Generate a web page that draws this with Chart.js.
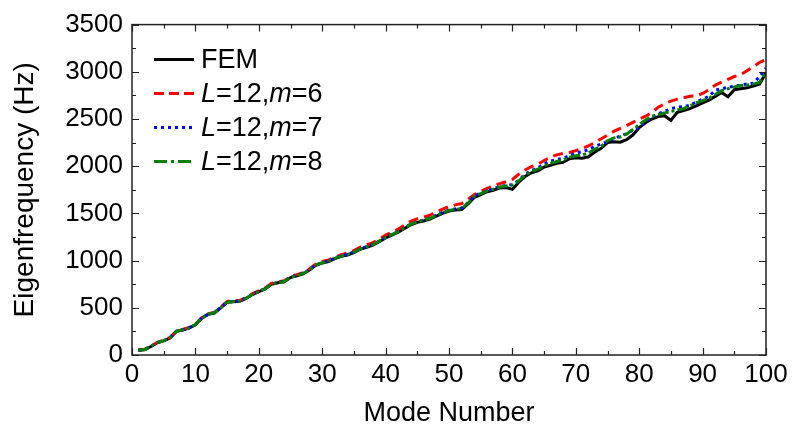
<!DOCTYPE html>
<html>
<head>
<meta charset="utf-8">
<script src="https://cdn.jsdelivr.net/npm/chart.js@4/dist/chart.umd.min.js"></script>
<style>
  html, body { margin: 0; padding: 0; background: #fff; }
  #wrap { width: 796px; height: 434px; }
</style>
</head>
<body>
<div id="wrap"><canvas id="c" width="796" height="434"></canvas></div>
<script>
// mode numbers 1..100
const modes = Array.from({length: 100}, (_, i) => i + 1)

const fem = [
  50, 55, 90, 130, 150, 180, 250, 265, 285, 320,
  390, 430, 445, 500, 560, 565, 570, 600, 640, 670,
  700, 750, 765, 775, 820, 840, 860, 900, 950, 975,
  990, 1020, 1045, 1060, 1085, 1120, 1140, 1165, 1200, 1240,
  1270, 1300, 1340, 1380, 1405, 1420, 1440, 1470, 1500, 1525,
  1535, 1540, 1600, 1670, 1700, 1730, 1745, 1770, 1775, 1755,
  1830, 1890, 1930, 1950, 1990, 2010, 2030, 2040, 2080, 2090,
  2085, 2100, 2150, 2190, 2250, 2260, 2255, 2280, 2330, 2410,
  2460, 2500, 2525, 2535, 2485, 2570, 2590, 2610, 2640, 2670,
  2700, 2740, 2780, 2735, 2810, 2820, 2830, 2850, 2870, 2990
]
const m6 = [
  52, 60, 95, 135, 156, 188, 255, 272, 292, 325,
  395, 436, 452, 508, 566, 572, 578, 608, 650, 680,
  710, 758, 774, 786, 830, 852, 874, 914, 962, 990,
  1006, 1036, 1062, 1080, 1106, 1142, 1164, 1190, 1228, 1270,
  1302, 1334, 1376, 1418, 1442, 1460, 1482, 1514, 1546, 1572,
  1590, 1604, 1650, 1700, 1735, 1765, 1790, 1815, 1835, 1860,
  1915, 1960, 1995, 2020, 2060, 2095, 2120, 2135, 2145, 2165,
  2190, 2215, 2250, 2290, 2330, 2370, 2400, 2430, 2465, 2500,
  2530, 2570, 2625, 2660, 2690, 2710, 2725, 2740, 2745, 2770,
  2810, 2860, 2890, 2920, 2950, 2970, 3010, 3055, 3100, 3130
]
const m7 = [
  50, 58, 92, 132, 152, 185, 252, 268, 290, 322,
  393, 432, 448, 504, 562, 566, 574, 604, 644, 674,
  704, 752, 768, 780, 824, 844, 866, 906, 954, 980,
  996, 1026, 1050, 1066, 1092, 1126, 1148, 1172, 1208, 1248,
  1278, 1308, 1348, 1388, 1412, 1430, 1452, 1480, 1510, 1535,
  1548, 1556, 1615, 1685, 1715, 1742, 1760, 1785, 1795, 1805,
  1850, 1915, 1955, 1980, 2025, 2055, 2070, 2085, 2110, 2140,
  2154, 2175, 2210, 2235, 2260, 2290, 2320, 2345, 2380, 2410,
  2470, 2520, 2555, 2580, 2610, 2625, 2630, 2645, 2680, 2710,
  2740, 2805, 2820, 2835, 2848, 2860, 2872, 2880, 2950, 3040
]
const m8 = [
  50, 58, 92, 132, 152, 185, 250, 268, 288, 322,
  392, 432, 448, 502, 560, 566, 572, 602, 642, 672,
  702, 750, 766, 778, 822, 842, 864, 904, 952, 978,
  994, 1024, 1048, 1064, 1090, 1124, 1146, 1170, 1206, 1245,
  1275, 1306, 1346, 1386, 1410, 1428, 1448, 1478, 1508, 1532,
  1544, 1552, 1610, 1680, 1710, 1738, 1756, 1780, 1790, 1800,
  1845, 1905, 1945, 1968, 2005, 2030, 2050, 2065, 2095, 2110,
  2120, 2140, 2180, 2210, 2270, 2300, 2310, 2340, 2390, 2440,
  2490, 2530, 2545, 2565, 2580, 2595, 2610, 2640, 2670, 2695,
  2720, 2760, 2800, 2820, 2840, 2855, 2860, 2870, 2890, 3005
]

const FONT = "'Liberation Sans', Arial, sans-serif"

// legend rows: [parts, colour, dash]; parts are [text, italic]
const legendRows = [
  [[['FEM', false]], '#000', []],
  [[['L', true], ['=12,', false], ['m', true], ['=6', false]], '#ff0000', [10, 5]],
  [[['L', true], ['=12,', false], ['m', true], ['=7', false]], '#0000ff', [3, 4]],
  [[['L', true], ['=12,', false], ['m', true], ['=8', false]], '#008000', [13, 4, 3, 4]]
]

const frame = {
  id: 'frame',
  afterDraw(chart) {
    const {ctx, chartArea: a, scales: {x, y}} = chart
    ctx.save()
    ctx.strokeStyle = '#222'
    ctx.lineWidth = 1.5
    ctx.strokeRect(a.left, a.top, a.right - a.left, a.bottom - a.top)
    ctx.lineWidth = 1.2
    ctx.beginPath()
    for (let v = 0; v <= 100; v += 5) {
      const px = Math.round(x.getPixelForValue(v)) + 0.5
      const len = v % 10 ? 4 : 7
      ctx.moveTo(px, a.bottom); ctx.lineTo(px, a.bottom - len)
      ctx.moveTo(px, a.top); ctx.lineTo(px, a.top + len)
    }
    for (let v = 0; v <= 3500; v += 250) {
      const py = Math.round(y.getPixelForValue(v)) + 0.5
      const len = v % 500 ? 4 : 7
      ctx.moveTo(a.left, py); ctx.lineTo(a.left + len, py)
      ctx.moveTo(a.right, py); ctx.lineTo(a.right - len, py)
    }
    ctx.stroke()

    // legend
    const lx = a.left + 22, tx = a.left + 69
    legendRows.forEach(([parts, col, dash], i) => {
      const ly = a.top + 35 + i * 34
      ctx.strokeStyle = col
      ctx.lineWidth = 3
      ctx.setLineDash(dash)
      ctx.beginPath()
      ctx.moveTo(lx, ly); ctx.lineTo(lx + 40, ly)
      ctx.stroke()
      ctx.setLineDash([])
      let cx = tx
      ctx.fillStyle = '#000'
      ctx.textBaseline = 'middle'
      for (const [t, it] of parts) {
        ctx.font = (it ? 'italic ' : '') + '27px ' + FONT
        ctx.fillText(t, cx, ly + 1)
        cx += ctx.measureText(t).width
      }
    })
    ctx.restore()
  }
}

function ds(label, data, color, dash, order) {
  return {
    label, data,
    borderColor: color,
    borderWidth: 3,
    borderDash: dash,
    pointRadius: 0,
    tension: 0,
    fill: false,
    order
  }
}

new Chart(document.getElementById('c'), {
  type: 'line',
  data: {
    labels: modes,
    datasets: [
      ds('FEM', fem, '#000', [], 4),
      ds('L=12,m=6', m6, '#ff0000', [10, 6], 3),
      ds('L=12,m=7', m7, '#0000ff', [3, 4], 2),
      ds('L=12,m=8', m8, '#008000', [11, 3, 3, 3], 1)
    ]
  },
  options: {
    responsive: false,
    animation: false,
    layout: { padding: { left: 0, right: 30, top: 19, bottom: 4 } },
    plugins: { legend: { display: false }, tooltip: { enabled: false } },
    scales: {
      x: {
        type: 'linear', min: 0, max: 100,
        grid: { display: false, drawTicks: false },
        border: { display: false },
        ticks: { stepSize: 10, padding: 4, color: '#000', font: { family: FONT, size: 26 }, maxRotation: 0 },
        title: { display: true, text: 'Mode Number', color: '#000', font: { family: FONT, size: 27 }, padding: { top: 0, bottom: 0 } },
        afterFit(s) { s.height = 75 }
      },
      y: {
        min: 0, max: 3500,
        grid: { display: false, drawTicks: false },
        border: { display: false },
        ticks: { stepSize: 500, padding: 9, color: '#000', font: { family: FONT, size: 26 },
                 callback: v => String(v) },
        title: { display: true, text: 'Eigenfrequency (Hz)', color: '#000', font: { family: FONT, size: 28 }, padding: { top: 8, bottom: 0 } },
        afterFit(s) { s.width = 132 }
      }
    }
  },
  plugins: [frame]
})
</script>
</body>
</html>
